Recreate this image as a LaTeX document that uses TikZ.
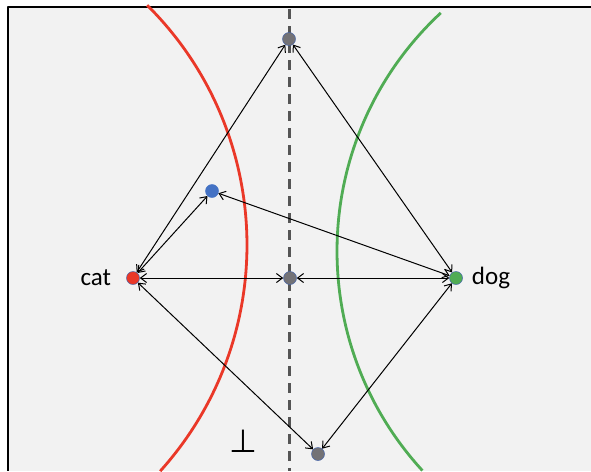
\documentclass[tikz,border=0pt]{standalone}
\usepackage{fontspec}
\setmainfont{Carlito}
\newfontfamily\symfont{DejaVu Sans}
\usetikzlibrary{arrows.meta,positioning}
\definecolor{paneback}{RGB}{242,242,242}
\definecolor{catred}{RGB}{234,56,40}
\definecolor{doggreen}{RGB}{80,172,84}
\definecolor{pointblue}{RGB}{68,114,196}
\definecolor{pointgray}{RGB}{115,114,118}
\definecolor{pointrim}{RGB}{68,100,170}
\definecolor{axisgray}{RGB}{85,85,85}

\begin{document}
\begin{tikzpicture}[x=1pt,y=-1pt,line join=round,
  >={Straight Barb[length=6pt,width=9pt]},
  point/.style={circle,draw=pointrim,line width=.5pt,inner sep=0pt,minimum size=13pt},
  link/.style={<->,line width=1pt},
  word/.style={font=\fontsize{25}{30}\selectfont,inner sep=0pt}]
 \useasboundingbox (0,0) rectangle (591,471);
 % pane
 \fill[paneback] (8,7) rectangle (591,471);
 \draw[line width=2.6pt] (591,7)--(8,7)--(8,471);
 % separating axis
 \draw[axisgray,line width=3pt,dash pattern=on 10pt off 7pt]
  (289,9)--(289,471);
 % class boundaries
 \draw[catred,line width=2.8pt]
  (-91,245) ++(-45.2:338) arc[start angle=-45.2,end angle=42,radius=338];
 \draw[doggreen,line width=2.8pt]
  (662,251) ++(227.1:325) arc[start angle=227.1,end angle=137.5,radius=325];
 % points
 \node[point,fill=catred] (cat) at (133,278) {};
 \node[point,fill=doggreen] (dog) at (456,278) {};
 \node[point,fill=pointgray] (mid) at (290,278) {};
 \node[point,fill=pointgray] (top) at (289,39) {};
 \node[point,fill=pointgray] (bot) at (318,454) {};
 \node[point,fill=pointblue,draw=pointblue] (blue) at (212,191) {};
 \node[word,left=15pt of cat] (catlabel) {cat};
 \node[word,right=9pt of dog] (doglabel) {dog};
 \node[font=\symfont\fontsize{32}{36}\selectfont,inner sep=0pt] (bottom) at (243,441) {⊥};
 % links
 \foreach \p in {top,blue,mid,bot}{
  \draw[link] (cat)--(\p);
  \draw[link] (\p)--(dog);
 }
\end{tikzpicture}
\end{document}
